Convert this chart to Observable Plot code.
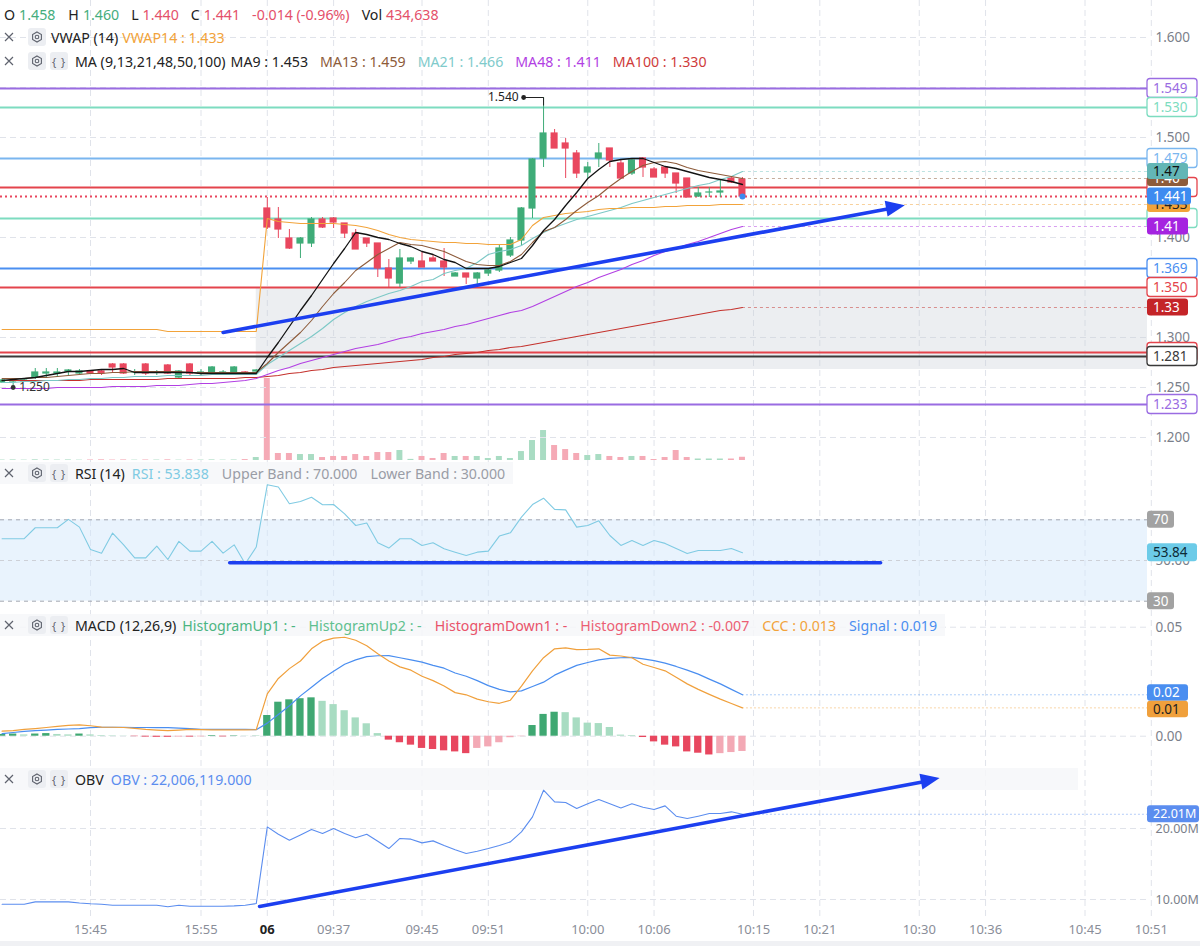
<!DOCTYPE html>
<html>
<head>
<meta charset="utf-8">
<script src="https://cdn.jsdelivr.net/npm/d3@7"></script>
<script src="https://cdn.jsdelivr.net/npm/@observablehq/plot@0.6"></script>
<style>
  html, body { margin: 0; padding: 0; background: #fff; }
  #wrap { position: relative; width: 1200px; height: 946px; overflow: hidden; background: #fff;
          font-family: "Noto Sans", "Open Sans", sans-serif; }
  #wrap svg { overflow: visible; max-width: none; }
  .layer { position: absolute; left: 0; }
  .row { position: absolute; left: 0; height: 22px; display: flex; align-items: center;
         font-size: 14.2px; white-space: nowrap; color: #222; z-index: 3; }
  .ico { width: 18px; height: 18px; border-radius: 3px; display: inline-flex; align-items: center;
         justify-content: center; flex: none; }
  .ico.box { background: #eceef2; }
  .ico svg { display: block; }
  .brace { font-size: 11px; color: #5f636e; letter-spacing: 1px; }
  .bottomstrip { position: absolute; left: 0; top: 941px; width: 1200px; height: 5px; background: #f0f1f4; }
</style>
</head>
<body>
<div id="wrap">
  <div id="bg" class="layer" style="top:0"></div>
  <div id="vol" class="layer" style="top:0"></div>
  <div id="main" class="layer" style="top:0"></div>
  <div id="rsi" class="layer" style="top:462px"></div>
  <div id="macd" class="layer" style="top:614px"></div>
  <div id="obv" class="layer" style="top:762px; z-index:4"></div>
  <div class="bottomstrip"></div>
</div>
<script>
// ---------- data: one value per 1-minute bar; bar index 0 = 15:45 ----------
const FIRST_BAR = -8;

const open = [
  1.255, 1.256, 1.256, 1.260, 1.264, 1.264, 1.266, 1.264, 1.266, 1.266,
  1.273, 1.273, 1.265, 1.273, 1.265, 1.272, 1.260, 1.273, 1.265, 1.264,
  1.265, 1.263, 1.265, 1.266,
  1.429, 1.418, 1.399, 1.394, 1.394, 1.418, 1.419, 1.414, 1.404, 1.399,
  1.394, 1.369, 1.354, 1.376, 1.376, 1.379, 1.376, 1.361, 1.364, 1.359,
  1.364, 1.367, 1.382, 1.397, 1.429, 1.479, 1.504, 1.494, 1.484, 1.465,
  1.479, 1.489, 1.474, 1.464, 1.479, 1.468, 1.470, 1.464, 1.459, 1.441,
  1.445, 1.445, 1.459, 1.458
];
const close = [
  1.257, 1.256, 1.257, 1.265, 1.265, 1.265, 1.267, 1.266, 1.264, 1.264,
  1.270, 1.264, 1.265, 1.264, 1.265, 1.264, 1.266, 1.264, 1.265, 1.270,
  1.265, 1.270, 1.264, 1.267,
  1.410, 1.408, 1.389, 1.399, 1.418, 1.410, 1.415, 1.404, 1.388, 1.394,
  1.369, 1.359, 1.379, 1.379, 1.370, 1.376, 1.370, 1.364, 1.360, 1.364,
  1.367, 1.389, 1.397, 1.429, 1.478, 1.504, 1.489, 1.489, 1.464, 1.470,
  1.484, 1.477, 1.459, 1.477, 1.470, 1.460, 1.464, 1.454, 1.440, 1.444,
  1.445, 1.446, 1.455, 1.441
];
const high = [
  1.258, 1.258, 1.258, 1.269, 1.269, 1.269, 1.268, 1.268, 1.267, 1.267,
  1.274, 1.274, 1.268, 1.274, 1.267, 1.273, 1.267, 1.274, 1.268, 1.271,
  1.267, 1.271, 1.266, 1.268,
  1.440, 1.430, 1.408, 1.400, 1.420, 1.420, 1.420, 1.414, 1.408, 1.399,
  1.394, 1.378, 1.388, 1.380, 1.385, 1.382, 1.389, 1.365, 1.364, 1.365,
  1.369, 1.392, 1.400, 1.430, 1.479, 1.540, 1.508, 1.499, 1.487, 1.475,
  1.494, 1.489, 1.477, 1.479, 1.480, 1.470, 1.470, 1.464, 1.459, 1.450,
  1.450, 1.457, 1.460, 1.460
];
const low = [
  1.254, 1.250, 1.255, 1.258, 1.260, 1.260, 1.262, 1.263, 1.263, 1.262,
  1.264, 1.263, 1.262, 1.262, 1.262, 1.263, 1.259, 1.262, 1.262, 1.263,
  1.262, 1.262, 1.262, 1.262,
  1.408, 1.399, 1.388, 1.379, 1.390, 1.409, 1.409, 1.399, 1.388, 1.390,
  1.360, 1.350, 1.350, 1.373, 1.370, 1.376, 1.361, 1.361, 1.353, 1.350,
  1.361, 1.365, 1.380, 1.392, 1.419, 1.470, 1.489, 1.459, 1.459, 1.459,
  1.470, 1.470, 1.459, 1.462, 1.460, 1.460, 1.459, 1.444, 1.440, 1.440,
  1.440, 1.440, 1.454, 1.440
];
// volume in thousands of shares
const volume = [
  60, 80, 50, 90, 70, 60, 80, 50, 70, 90,
  60, 80, 50, 70, 60, 90, 50, 70, 60, 80,
  50, 70, 120, 400,
  11000, 940, 940, 800, 800, 400, 540, 540, 800, 540,
  1070, 1070, 1340, 150, 540, 270, 940, 540, 540, 540,
  270, 540, 270, 1200, 2680, 4020, 2010, 1470, 940, 670,
  800, 540, 400, 540, 540, 130, 400, 1340, 400, 200,
  200, 200, 200, 434.638
];
const vwap = [
  1.308, 1.308, 1.308, 1.308, 1.308, 1.308, 1.308, 1.308, 1.308, 1.308,
  1.308, 1.308, 1.308, 1.308, 1.308, 1.306, 1.306, 1.306, 1.306, 1.306,
  1.306, 1.306, 1.306, 1.306,
  1.419, 1.416, 1.415, 1.414, 1.414, 1.414, 1.414, 1.413, 1.412, 1.410,
  1.407, 1.403, 1.400, 1.398, 1.397, 1.396, 1.395, 1.395, 1.394, 1.394,
  1.393, 1.393, 1.393, 1.398, 1.412, 1.420, 1.422, 1.424, 1.425, 1.426,
  1.428, 1.429, 1.429, 1.430, 1.430, 1.430, 1.431, 1.431, 1.432, 1.432,
  1.432, 1.433, 1.433, 1.433
];
const ma9 = [
  1.257, 1.258, 1.259, 1.260, 1.262, 1.264, 1.266, 1.266, 1.267, 1.268,
  1.268, 1.269, 1.265, 1.265, 1.265, 1.265, 1.265, 1.265, 1.264, 1.264,
  1.264, 1.264, 1.264, 1.264,
  1.280, 1.295, 1.311, 1.327, 1.342, 1.358, 1.374, 1.389, 1.405, 1.403,
  1.400, 1.398, 1.394, 1.391, 1.386, 1.383, 1.378, 1.375, 1.369, 1.369,
  1.369, 1.371, 1.375, 1.379, 1.392, 1.407, 1.418, 1.432, 1.445, 1.459,
  1.468, 1.476, 1.478, 1.479, 1.479, 1.475, 1.471, 1.469, 1.466, 1.463,
  1.460, 1.458, 1.456, 1.453
];
const ma13 = [
  1.259, 1.259, 1.259, 1.260, 1.260, 1.261, 1.262, 1.263, 1.264, 1.264,
  1.265, 1.265, 1.266, 1.266, 1.266, 1.266, 1.266, 1.265, 1.265, 1.265,
  1.265, 1.265, 1.265, 1.265,
  1.274, 1.285, 1.295, 1.305, 1.317, 1.331, 1.344, 1.355, 1.367, 1.375,
  1.383, 1.389, 1.395, 1.393, 1.392, 1.389, 1.386, 1.381, 1.376, 1.373,
  1.372, 1.372, 1.376, 1.383, 1.395, 1.406, 1.410, 1.418, 1.427, 1.435,
  1.442, 1.451, 1.459, 1.466, 1.472, 1.475, 1.476, 1.474, 1.470, 1.467,
  1.465, 1.463, 1.461, 1.459
];
const ma21 = [
  1.255, 1.255, 1.256, 1.256, 1.257, 1.257, 1.258, 1.258, 1.259, 1.259,
  1.260, 1.260, 1.261, 1.261, 1.261, 1.262, 1.262, 1.262, 1.262, 1.263,
  1.263, 1.263, 1.263, 1.263,
  1.273, 1.280, 1.287, 1.294, 1.301, 1.309, 1.318, 1.325, 1.331, 1.336,
  1.340, 1.344, 1.347, 1.351, 1.356, 1.358, 1.364, 1.367, 1.369, 1.375,
  1.383, 1.386, 1.388, 1.392, 1.399, 1.405, 1.410, 1.414, 1.418, 1.421,
  1.424, 1.427, 1.430, 1.434, 1.437, 1.440, 1.443, 1.446, 1.449, 1.452,
  1.454, 1.458, 1.461, 1.466
];
const ma48 = [
  1.249, 1.249, 1.249, 1.249, 1.249, 1.250, 1.250, 1.250, 1.250, 1.250,
  1.251, 1.251, 1.251, 1.251, 1.252, 1.252, 1.252, 1.253, 1.254, 1.254,
  1.255, 1.256, 1.257, 1.259,
  1.263, 1.267, 1.270, 1.274, 1.277, 1.280, 1.283, 1.286, 1.289, 1.291,
  1.293, 1.296, 1.299, 1.301, 1.304, 1.306, 1.308, 1.311, 1.313, 1.316,
  1.319, 1.322, 1.325, 1.327, 1.331, 1.336, 1.341, 1.346, 1.351, 1.355,
  1.360, 1.364, 1.368, 1.373, 1.377, 1.382, 1.386, 1.389, 1.393, 1.396,
  1.400, 1.404, 1.408, 1.411
];
const ma100 = [
  1.257, 1.257, 1.257, 1.257, 1.257, 1.257, 1.257, 1.257, 1.258, 1.258,
  1.258, 1.258, 1.258, 1.258, 1.258, 1.259, 1.259, 1.259, 1.259, 1.259,
  1.259, 1.259, 1.260, 1.260,
  1.261, 1.262, 1.264, 1.265, 1.267, 1.268, 1.270, 1.271, 1.272, 1.273,
  1.274, 1.275, 1.276, 1.277, 1.278, 1.280, 1.281, 1.283, 1.284, 1.285,
  1.287, 1.288, 1.290, 1.291, 1.293, 1.295, 1.297, 1.299, 1.301, 1.303,
  1.305, 1.307, 1.309, 1.311, 1.313, 1.315, 1.317, 1.319, 1.321, 1.323,
  1.325, 1.327, 1.328, 1.330
];
const rsi = [
  60.7, 60.7, 60.7, 66.1, 66.1, 66.1, 70.2, 66.4, 55.4, 53.6,
  63.5, 57.7, 51.3, 51.3, 57.1, 50.5, 59.4, 54.6, 54.6, 59.4,
  53.6, 57.7, 48.4, 56.6,
  87.2, 86.1, 77.9, 79.0, 81.1, 77.4, 77.5, 72.9, 67.2, 68.4,
  58.7, 56.1, 60.7, 60.7, 57.4, 58.7, 55.8, 54.1, 52.5, 54.1,
  54.6, 62.0, 63.6, 71.3, 77.5, 80.6, 75.1, 74.9, 66.4, 67.2,
  69.5, 62.3, 57.4, 59.8, 57.4, 59.8, 58.4, 55.9, 53.4, 54.9,
  54.9, 54.9, 55.9, 53.838
];
const ccc = [
  0.0023, 0.0026, 0.0031, 0.0035, 0.0040, 0.0045, 0.0050, 0.0052, 0.0048, 0.0042,
  0.0041, 0.0040, 0.0036, 0.0031, 0.0028, 0.0026, 0.0028, 0.0031, 0.0030, 0.0029,
  0.0029, 0.0029, 0.0029, 0.0030,
  0.0194, 0.0265, 0.0310, 0.0345, 0.0401, 0.0436, 0.0450, 0.0454, 0.0440, 0.0415,
  0.0378, 0.0345, 0.0318, 0.0303, 0.0275, 0.0255, 0.0230, 0.0200, 0.0190, 0.0170,
  0.0158, 0.0151, 0.0165, 0.0230, 0.0300, 0.0360, 0.0401, 0.0405, 0.0397, 0.0398,
  0.0401, 0.0372, 0.0368, 0.0360, 0.0330, 0.0315, 0.0300, 0.0270, 0.0240, 0.0215,
  0.0192, 0.0170, 0.0150, 0.0130
];
const signal = [
  0.0012, 0.0017, 0.0022, 0.0026, 0.0028, 0.0031, 0.0033, 0.0035, 0.0039, 0.0041,
  0.0041, 0.0041, 0.0040, 0.0040, 0.0039, 0.0039, 0.0037, 0.0035, 0.0032, 0.0031,
  0.0031, 0.0031, 0.0031, 0.0030,
  0.0060, 0.0100, 0.0140, 0.0185, 0.0225, 0.0265, 0.0298, 0.0330, 0.0350, 0.0365,
  0.0369, 0.0370, 0.0360, 0.0350, 0.0340, 0.0325, 0.0312, 0.0290, 0.0275, 0.0255,
  0.0232, 0.0215, 0.0203, 0.0208, 0.0228, 0.0248, 0.0280, 0.0303, 0.0325, 0.0338,
  0.0350, 0.0357, 0.0360, 0.0362, 0.0355, 0.0347, 0.0335, 0.0320, 0.0303, 0.0285,
  0.0262, 0.0240, 0.0215, 0.0190
];
const hist = [
  0.0008, 0.0010, 0.0006, 0.0010, 0.0012, 0.0008, 0.0006, 0.0010, 0.0006, 0.0003,
  0.0002, 0.0001, -0.0002, -0.0004, -0.0005, -0.0005, -0.0004, -0.0004, -0.0003, 0.0003,
  -0.0003, 0.0002, 0.0001, 0.0001,
  0.0095, 0.0156, 0.0167, 0.0172, 0.0176, 0.0160, 0.0145, 0.0117, 0.0084, 0.0057,
  0.0012, -0.0018, -0.0030, -0.0041, -0.0056, -0.0061, -0.0067, -0.0072, -0.0080, -0.0056,
  -0.0049, -0.0030, -0.0007, -0.0002, 0.0049, 0.0100, 0.0110, 0.0108, 0.0084, 0.0060,
  0.0058, 0.0040, 0.0005, 0.0003, -0.0006, -0.0026, -0.0041, -0.0049, -0.0072, -0.0078,
  -0.0086, -0.0080, -0.0075, -0.0070
];
// on-balance volume, millions
const obv = [
  9.34, 9.34, 9.34, 9.67, 9.67, 9.67, 9.67, 9.50, 9.40, 9.34,
  9.20, 9.20, 9.20, 9.20, 9.20, 8.97, 9.20, 9.06, 9.06, 9.06,
  9.06, 9.10, 9.20, 9.43,
  20.23, 19.20, 18.36, 19.10, 19.86, 19.30, 20.00, 19.30, 18.69, 19.20,
  18.20, 17.18, 18.60, 18.50, 17.98, 18.26, 17.60, 17.00, 16.48, 16.80,
  17.18, 17.60, 18.12, 19.53, 21.64, 25.40, 23.76, 23.66, 22.82, 23.50,
  24.08, 23.50, 22.90, 23.50, 23.00, 22.68, 23.19, 21.74, 21.40, 21.74,
  22.11, 22.11, 22.35, 22.006119
];

const tickBars   = [0, 10, 16, 22, 30, 36, 45, 51, 60, 66, 75, 81, 90, 96];
const tickLabels = ["15:45", "15:55", "06", "09:37", "09:45", "09:51", "10:00", "10:06",
                    "10:15", "10:21", "10:30", "10:36", "10:45", "10:51"];
const priceTicks = [1.20, 1.25, 1.30, 1.35, 1.40, 1.45, 1.50, 1.55, 1.60];
const levelPrices = [1.549, 1.530, 1.479, 1.450, 1.419, 1.369, 1.350, 1.285, 1.281, 1.233];
const hiddenLevels = [1.450, 1.419, 1.285];
const zoneFromBar = 15, zoneLow = 1.268, zoneHigh = 1.350;
const trendPrice = [[12.0, 1.305], [72.85, 1.430]];
const trendRsi   = [[12.6, 48.9], [71.5, 48.9]];
const trendObv   = [[15.3, 9.01], [76.0, 26.77]];
const rsiBands   = [70, 50, 30];
const macdTicks  = [0, 0.05];
const obvTicks   = [10, 20];

// ---------- styles ----------
const UP = "#3fac78", DN = "#e9475e";
const UP_T = "#45ad7d", DN_T = "#e4506a";
const VOL_UP = "#a9dcc3", VOL_DN = "#f5aab6";
const H_UP1 = "#3fa872", H_UP2 = "#a8dcc2", H_DN1 = "#e8475f", H_DN2 = "#f3a9b5";
const ARROW = "#1c3ff0";
const C_MA9 = "#131313", C_MA13 = "#8d5b3a", C_MA21 = "#7cc8c6", C_MA48 = "#b23fe3",
      C_MA100 = "#c4302b", C_VWAP = "#f2a33a", C_RSI = "#80cbe3", C_CCC = "#f0a03c",
      C_SIG = "#4a8ef0", C_OBV = "#5b8def", C_PRICE = "#3d8bf0";
const levelColors = ["#9a6ce2", "#7ddcc0", "#7ab6ef", "#e4444c", "#7ddcc0",
                     "#4b8ff1", "#e4444c", "#e4444c", "#3a3a3a", "#9a6ce2"];
const GRID = "#e0e3ea", AXIS_TXT = "#7b7f8a";

// ---------- layout ----------
const W = 1200, FRAME_R = 1147;
const xView = [-8.145, 95.656];
const xOpt = {type: "linear", domain: xView, range: [0, FRAME_R], axis: null};
const baseStyle = {background: "transparent", overflow: "visible", fontFamily: "'Noto Sans', sans-serif"};
const paneOpts = h => ({width: W, height: h, marginTop: 0, marginLeft: 0, marginBottom: 0,
                        marginRight: W - FRAME_R, x: xOpt, color: {type: "identity"}, style: baseStyle});

const bars = close.map((c, k) => ({
  i: k + FIRST_BAR, o: open[k], h: high[k], l: low[k], c, v: volume[k],
  vwap: vwap[k], ma9: ma9[k], ma13: ma13[k], ma21: ma21[k], ma48: ma48[k], ma100: ma100[k],
  rsi: rsi[k], ccc: ccc[k], sig: signal[k], hist: hist[k], obv: obv[k]
}));
bars.forEach((d, k) => {
  const p = k ? bars[k - 1].hist : 0;
  d.histColor = d.hist >= 0 ? (d.hist >= p ? H_UP1 : H_UP2) : (d.hist <= p ? H_DN1 : H_DN2);
  d.up = d.c >= d.o;
});
const last = bars[bars.length - 1];
const prev = bars[bars.length - 2];
const hiBar = bars[d3.maxIndex(bars, d => d.h)];
const loBar = bars[d3.minIndex(bars, d => d.l)];
const levels = levelPrices.map((v, k) => ({v, color: levelColors[k]}));
const toRight = () => xView[1];

// price-axis ticks that sit under a level tag are not labelled
const tagged = levelPrices.filter(v => !hiddenLevels.includes(v));
const axisPrices = priceTicks.filter(t => !tagged.some(v => Math.abs(v - t) < 0.0015)
                                       && Math.abs(t - last.c) > 0.012);

// value tag on the right price scale
function tag(svg, y, text, {fill = "#fff", stroke = null, color = "#fff", w = 50, h = 19, size = 13.5} = {}) {
  const g = d3.select(svg).append("g");
  g.append("rect").attr("x", FRAME_R).attr("y", y - h / 2).attr("width", w).attr("height", h)
    .attr("rx", 3).attr("fill", fill).attr("stroke", stroke || "none").attr("stroke-width", stroke ? 1.3 : 0);
  if (text) g.append("text").attr("x", FRAME_R + 6).attr("y", y).attr("dy", "0.36em").attr("fill", color)
    .attr("text-anchor", "start").attr("font-size", size)
    .attr("font-family", "'Noto Sans', sans-serif").text(text);
}
// filled arrowhead at the end of a trend segment
function arrowHead(svg, pts, color) {
  const sx = svg.scale("x"), sy = svg.scale("y");
  const [a, b] = pts.map(([i, v]) => [sx.apply(i), sy.apply(v)]);
  const dx = b[0] - a[0], dy = b[1] - a[1], len = Math.hypot(dx, dy);
  const ux = dx / len, uy = dy / len, px = -uy, py = ux, hw = 8;
  const tip = [b[0] + ux * 10, b[1] + uy * 10], base = [b[0] - ux * 9, b[1] - uy * 9];
  d3.select(svg).append("path")
    .attr("d", `M${tip[0]},${tip[1]}L${base[0] + px * hw},${base[1] + py * hw}L${base[0] - px * hw},${base[1] - py * hw}Z`)
    .attr("fill", color);
}
const axisText = (data, fmt, size = 13.5) => Plot.text(data, {y: d => d, frameAnchor: "right", dx: 8,
  textAnchor: "start", text: fmt, fill: AXIS_TXT, fontSize: size});

// ---------- background: time grid and axis ----------
const ticks = tickBars.map((b, k) => ({b, label: tickLabels[k]}));
const bg = Plot.plot({
  width: W, height: 946, marginTop: 0, marginLeft: 0, marginRight: W - FRAME_R, marginBottom: 29,
  x: xOpt, style: baseStyle,
  marks: [
    Plot.ruleX(ticks, {x: "b", stroke: GRID, strokeDasharray: "6,4"}),
    Plot.text(ticks.filter(t => t.label !== "06"), {x: "b", text: "label", frameAnchor: "bottom", dy: 16,
      fill: "#8a8e99", fontSize: 13}),
    Plot.text(ticks.filter(t => t.label === "06"), {x: "b", text: "label", frameAnchor: "bottom", dy: 16,
      fill: "#222", fontSize: 13, fontWeight: "bold"})
  ]
});
document.getElementById("bg").appendChild(bg);

// ---------- volume (bottom of the price pane) ----------
const vol = Plot.plot({
  ...paneOpts(462),
  y: {domain: [0, 11000], range: [460, 378], axis: null},
  marks: [
    Plot.rect(bars, {x1: d => d.i - 0.27, x2: d => d.i + 0.27, y1: 0, y2: "v",
      fill: d => d.up ? VOL_UP : VOL_DN})
  ]
});
document.getElementById("vol").appendChild(vol);

// ---------- price pane ----------
const extend = (key, color) => Plot.ruleY([last], {y: key, x1: "i", x2: toRight, stroke: color,
  strokeOpacity: 0.5, strokeDasharray: "3,3"});
const main = Plot.plot({
  ...paneOpts(462),
  y: {domain: [1.175, 1.637], range: [462, 0], axis: null},
  marks: [
    Plot.ruleY(priceTicks, {stroke: GRID, strokeDasharray: "6,4"}),
    Plot.rect([zoneFromBar], {x1: d => d, x2: toRight, y1: () => zoneLow, y2: () => zoneHigh,
      fill: "#c9cdd8", fillOpacity: 0.35}),
    Plot.ruleY(levels, {y: "v", stroke: "color", strokeWidth: 2}),
    Plot.ruleY([last], {y: "c", stroke: DN, strokeWidth: 2, strokeDasharray: "2,3"}),
    // candles
    Plot.ruleX(bars, {x: "i", y1: "l", y2: "h", stroke: d => d.up ? UP : DN, strokeWidth: 1}),
    Plot.rect(bars, {x1: d => d.i - 0.32, x2: d => d.i + 0.32,
      y1: d => Math.min(d.o, d.c), y2: d => Math.max(d.o, d.c),
      insetTop: -0.6, insetBottom: -0.6, fill: d => d.up ? UP : DN}),
    // moving averages
    extend("ma100", C_MA100), extend("ma48", C_MA48), extend("ma21", C_MA21),
    extend("ma13", C_MA13), extend("vwap", C_VWAP),
    Plot.line(bars, {x: "i", y: "ma100", stroke: C_MA100, strokeWidth: 1.1}),
    Plot.line(bars, {x: "i", y: "ma48", stroke: C_MA48, strokeWidth: 1.1}),
    Plot.line(bars, {x: "i", y: "ma21", stroke: C_MA21, strokeWidth: 1.1}),
    Plot.line(bars, {x: "i", y: "vwap", stroke: C_VWAP, strokeWidth: 1.1}),
    Plot.line(bars, {x: "i", y: "ma13", stroke: C_MA13, strokeWidth: 1.1}),
    Plot.line(bars, {x: "i", y: "ma9", stroke: C_MA9, strokeWidth: 1.3}),
    // trend arrow
    Plot.line(trendPrice, {x: d => d[0], y: d => d[1], stroke: ARROW, strokeWidth: 3.6}),
    // session high / low markers
    Plot.link([hiBar], {x1: d => d.i - 1.8, x2: "i", y1: "h", y2: "h", stroke: "#222", strokeWidth: 1}),
    Plot.link([hiBar], {x1: "i", x2: "i", y1: "h", y2: d => d.h - 0.008, stroke: "#222", strokeWidth: 1}),
    Plot.dot([hiBar], {x: d => d.i - 1.8, y: "h", r: 2.4, fill: "#222"}),
    Plot.text([hiBar], {x: d => d.i - 1.8, y: "h", dx: -5, textAnchor: "end", text: d => d.h.toFixed(3),
      fill: "#222", fontSize: 12}),
    Plot.dot([loBar], {x: "i", y: "l", r: 2.4, fill: "#333"}),
    Plot.text([loBar], {x: "i", y: "l", dx: 6, textAnchor: "start", text: d => d.l.toFixed(3),
      fill: "#333", fontSize: 12}),
    Plot.dot([last], {x: "i", y: "c", r: 3, fill: C_PRICE}),
    axisText(axisPrices, d => d.toFixed(3))
  ]
});
document.getElementById("main").appendChild(main);
arrowHead(main, trendPrice, ARROW);
{
  const sy = main.scale("y");
  // tags that end up behind others only show their outline
  for (const L of levels.filter(l => hiddenLevels.includes(l.v)))
    tag(main, sy.apply(L.v), null, {stroke: L.color});
  for (const L of levels.filter(l => !hiddenLevels.includes(l.v)))
    tag(main, sy.apply(L.v), L.v.toFixed(3), {stroke: L.color, color: L.color});
  tag(main, sy.apply(last.ma13), last.ma13.toFixed(2), {fill: C_MA13, color: "#fff", w: 41, h: 16});
  tag(main, sy.apply(last.vwap), last.vwap.toFixed(3), {fill: C_VWAP, color: "#222", w: 43, h: 16});
  tag(main, sy.apply(last.ma21), last.ma21.toFixed(2), {fill: "#63b6b6", color: "#111", w: 41, h: 16});
  tag(main, sy.apply(last.ma48), last.ma48.toFixed(2), {fill: "#a524e0", color: "#fff", w: 41, h: 17});
  tag(main, sy.apply(last.ma100), last.ma100.toFixed(2), {fill: "#c42428", color: "#fff", w: 41, h: 17});
  tag(main, sy.apply(last.c), last.c.toFixed(3), {fill: C_PRICE, color: "#fff", w: 44, h: 17});
}

// ---------- RSI pane ----------
const rsiPlot = Plot.plot({
  ...paneOpts(152),
  y: {domain: [23.46, 98.16], range: [152, 0], axis: null},
  marks: [
    Plot.rect([rsiBands], {x1: () => xView[0], x2: toRight, y1: d => d[2], y2: d => d[0],
      fill: "#d3e8fb", fillOpacity: 0.5}),
    Plot.ruleY([rsiBands[0], rsiBands[2]], {stroke: "#a3a7b1", strokeDasharray: "4,4"}),
    Plot.ruleY([rsiBands[1]], {stroke: "#cdd0d7", strokeDasharray: "4,4"}),
    Plot.line(bars, {x: "i", y: "rsi", stroke: C_RSI, strokeWidth: 1.1}),
    Plot.line(trendRsi, {x: d => d[0], y: d => d[1], stroke: ARROW, strokeWidth: 3.6}),
    axisText([rsiBands[1]], d => d.toFixed(2))
  ]
});
document.getElementById("rsi").appendChild(rsiPlot);
{
  const sy = rsiPlot.scale("y");
  tag(rsiPlot, sy.apply(rsiBands[0]), String(rsiBands[0]), {fill: "#a2a2a2", color: "#fff", w: 27, h: 17});
  tag(rsiPlot, sy.apply(rsiBands[2]), String(rsiBands[2]), {fill: "#a2a2a2", color: "#fff", w: 27, h: 17});
  tag(rsiPlot, sy.apply(last.rsi), last.rsi.toFixed(2), {fill: "#6ccbe8", color: "#0d2a36", w: 50, h: 18});
}

// ---------- MACD pane ----------
const macdPlot = Plot.plot({
  ...paneOpts(148),
  y: {domain: [-0.01206, 0.05583], range: [148, 0], axis: null},
  marks: [
    Plot.ruleY(macdTicks, {stroke: GRID, strokeDasharray: "6,4"}),
    Plot.rect(bars, {x1: d => d.i - 0.33, x2: d => d.i + 0.33, y1: 0, y2: "hist", fill: "histColor"}),
    Plot.ruleY([last], {y: "sig", x1: "i", x2: toRight, stroke: C_SIG, strokeOpacity: 0.45, strokeDasharray: "2,2"}),
    Plot.ruleY([last], {y: "ccc", x1: "i", x2: toRight, stroke: C_CCC, strokeOpacity: 0.45, strokeDasharray: "2,2"}),
    Plot.line(bars, {x: "i", y: "sig", stroke: C_SIG, strokeWidth: 1.2}),
    Plot.line(bars, {x: "i", y: "ccc", stroke: C_CCC, strokeWidth: 1.2}),
    axisText(macdTicks, d => d.toFixed(2))
  ]
});
document.getElementById("macd").appendChild(macdPlot);
{
  const sy = macdPlot.scale("y"), H = 16.5;
  let ys = sy.apply(last.sig), yc = sy.apply(last.ccc);
  if (yc - ys < H) { const m = (ys + yc) / 2; ys = m - H / 2; yc = m + H / 2; }
  tag(macdPlot, ys, last.sig.toFixed(2), {fill: C_SIG, color: "#fff", w: 41, h: H});
  tag(macdPlot, yc, last.ccc.toFixed(2), {fill: C_CCC, color: "#222", w: 41, h: H});
}

// ---------- OBV pane ----------
const obvPlot = Plot.plot({
  ...paneOpts(150),
  y: {domain: [8.17, 29.30], range: [150, 0], axis: null},
  marks: [
    Plot.ruleY(obvTicks, {stroke: GRID, strokeDasharray: "6,4"}),
    Plot.ruleY([last], {y: "obv", x1: "i", x2: toRight, stroke: C_OBV, strokeOpacity: 0.45, strokeDasharray: "2,2"}),
    Plot.line(bars, {x: "i", y: "obv", stroke: C_OBV, strokeWidth: 1.1}),
    Plot.line(trendObv, {x: d => d[0], y: d => d[1], stroke: ARROW, strokeWidth: 3.6}),
    axisText(obvTicks, d => d.toFixed(2) + "M", 12.5)
  ]
});
document.getElementById("obv").appendChild(obvPlot);
arrowHead(obvPlot, trendObv, ARROW);
tag(obvPlot, obvPlot.scale("y").apply(last.obv), last.obv.toFixed(2) + "M",
    {fill: C_OBV, color: "#fff", w: 52, h: 17, size: 12.5});

// ---------- legend rows ----------
const wrap = d3.select("#wrap");
const closeIcon = '<span class="ico"><svg width="10" height="10" viewBox="0 0 10 10"><path d="M1 1L9 9M9 1L1 9" stroke="#5f636e" stroke-width="1.2"/></svg></span>';
const gearIcon = '<span class="ico box" style="margin-left:10px"><svg width="12" height="12" viewBox="0 0 12 12"><path d="M6 0.9L10.4 3.45V8.55L6 11.1L1.6 8.55V3.45Z" fill="none" stroke="#5f636e" stroke-width="1.1"/><circle cx="6" cy="6" r="1.8" fill="none" stroke="#5f636e" stroke-width="1.1"/></svg></span>';
const braceIcon = '<span class="ico box brace" style="margin-left:4px">{ }</span>';
function headerRow(top, parts, icons = [], bg = null, width = null) {
  const html = icons.join("") +
    parts.map(([t, c, m]) => `<span style="color:${c};margin-left:${m}px">${t}</span>`).join("");
  const r = wrap.append("div").attr("class", "row").style("top", `${top}px`).html(html);
  if (bg) r.style("background", bg).style("padding-right", "8px");
  if (width) r.style("width", `${width}px`);
}
const f3 = v => v.toFixed(3);
const chg = last.c - prev.c;
headerRow(3, [
  ["O", "#222", 4], [f3(last.o), UP_T, 4], ["H", "#222", 13], [f3(last.h), UP_T, 4],
  ["L", "#222", 12], [f3(last.l), DN_T, 4], ["C", "#222", 12], [f3(last.c), DN_T, 4],
  [`${chg.toFixed(3)} (${(chg / prev.c * 100).toFixed(2)}%)`, DN_T, 12],
  ["Vol", "#222", 12], [Math.round(last.v * 1000).toLocaleString("en-US"), DN_T, 4]
]);
headerRow(26, [["VWAP (14)", "#222", 5], [`VWAP14 : ${f3(last.vwap)}`, C_VWAP, 4]], [closeIcon, gearIcon]);
headerRow(50, [
  ["MA (9,13,21,48,50,100)", "#222", 7], [`MA9 : ${f3(last.ma9)}`, "#222", 5],
  [`MA13 : ${f3(last.ma13)}`, C_MA13, 12], [`MA21 : ${f3(last.ma21)}`, "#7fcbcb", 12],
  [`MA48 : ${f3(last.ma48)}`, C_MA48, 12], [`MA100 : ${f3(last.ma100)}`, "#cf3b3b", 12]
], [closeIcon, gearIcon, braceIcon]);
const paneBg = "rgba(246,247,249,0.85)";
headerRow(462, [
  ["RSI (14)", "#222", 7], [`RSI : ${f3(last.rsi)}`, C_RSI, 7],
  [`Upper Band : ${rsiBands[0].toFixed(3)}`, "#9a9da6", 13], [`Lower Band : ${rsiBands[2].toFixed(3)}`, "#9a9da6", 13]
], [closeIcon, gearIcon, braceIcon], paneBg);
headerRow(614, [
  ["MACD (12,26,9)", "#222", 7], ["HistogramUp1 : -", "#4cb582", 6], ["HistogramUp2 : -", "#5fc08f", 13],
  ["HistogramDown1 : -", "#e9536a", 13], [`HistogramDown2 : ${f3(last.hist)}`, "#ec5f74", 13],
  [`CCC : ${f3(last.ccc)}`, C_VWAP, 13], [`Signal : ${f3(last.sig)}`, C_SIG, 13]
], [closeIcon, gearIcon, braceIcon], paneBg);
headerRow(768, [
  ["OBV", "#222", 7], [`OBV : ${Math.round(last.obv * 1e6).toLocaleString("en-US")}.000`, C_OBV, 7]
], [closeIcon, gearIcon, braceIcon], paneBg, 1070);
</script>
</body>
</html>
